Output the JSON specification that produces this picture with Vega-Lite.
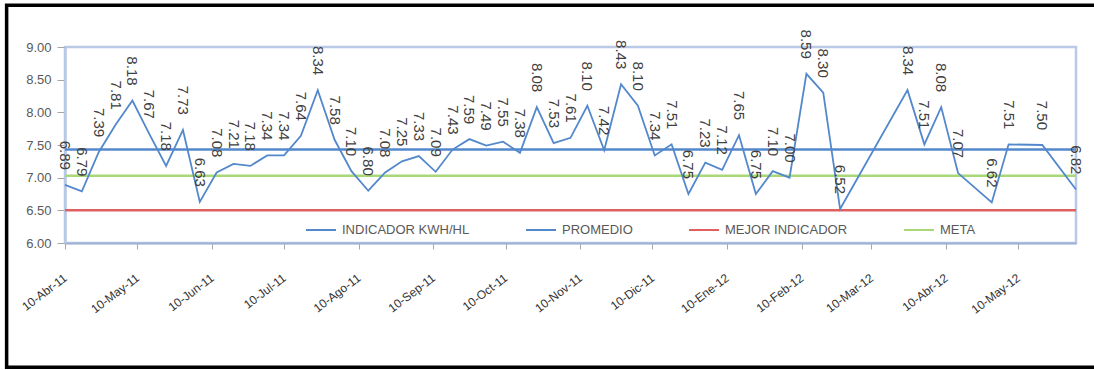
{
  "$schema": "https://vega.github.io/schema/vega-lite/v6.json",
  "autosize": "none",
  "width": 1011,
  "height": 196,
  "padding": {"left": 65, "top": 47, "right": 18, "bottom": 127},
  "background": "white",
  "config": {
    "view": {"stroke": "#b9c9e6", "strokeWidth": 2.5},
    "font": "Liberation Sans"
  },
  "datasets": {
    "main": [
      {"fecha": "2011-04-10", "valor": 6.89},
      {"fecha": "2011-04-17", "valor": 6.79},
      {"fecha": "2011-04-24", "valor": 7.39},
      {"fecha": "2011-05-01", "valor": 7.81},
      {"fecha": "2011-05-08", "valor": 8.18},
      {"fecha": "2011-05-15", "valor": 7.67},
      {"fecha": "2011-05-22", "valor": 7.18},
      {"fecha": "2011-05-29", "valor": 7.73},
      {"fecha": "2011-06-05", "valor": 6.63},
      {"fecha": "2011-06-12", "valor": 7.08},
      {"fecha": "2011-06-19", "valor": 7.21},
      {"fecha": "2011-06-26", "valor": 7.18},
      {"fecha": "2011-07-03", "valor": 7.34},
      {"fecha": "2011-07-10", "valor": 7.34},
      {"fecha": "2011-07-17", "valor": 7.64},
      {"fecha": "2011-07-24", "valor": 8.34},
      {"fecha": "2011-07-31", "valor": 7.58},
      {"fecha": "2011-08-07", "valor": 7.10},
      {"fecha": "2011-08-14", "valor": 6.80},
      {"fecha": "2011-08-21", "valor": 7.08},
      {"fecha": "2011-08-28", "valor": 7.25},
      {"fecha": "2011-09-04", "valor": 7.33},
      {"fecha": "2011-09-11", "valor": 7.09},
      {"fecha": "2011-09-18", "valor": 7.43},
      {"fecha": "2011-09-25", "valor": 7.59},
      {"fecha": "2011-10-02", "valor": 7.49},
      {"fecha": "2011-10-09", "valor": 7.55},
      {"fecha": "2011-10-16", "valor": 7.38},
      {"fecha": "2011-10-23", "valor": 8.08},
      {"fecha": "2011-10-30", "valor": 7.53},
      {"fecha": "2011-11-06", "valor": 7.61},
      {"fecha": "2011-11-13", "valor": 8.10},
      {"fecha": "2011-11-20", "valor": 7.42},
      {"fecha": "2011-11-27", "valor": 8.43},
      {"fecha": "2011-12-04", "valor": 8.10},
      {"fecha": "2011-12-11", "valor": 7.34},
      {"fecha": "2011-12-18", "valor": 7.51},
      {"fecha": "2011-12-25", "valor": 6.75},
      {"fecha": "2012-01-01", "valor": 7.23},
      {"fecha": "2012-01-08", "valor": 7.12},
      {"fecha": "2012-01-15", "valor": 7.65},
      {"fecha": "2012-01-22", "valor": 6.75},
      {"fecha": "2012-01-29", "valor": 7.10},
      {"fecha": "2012-02-05", "valor": 7.00},
      {"fecha": "2012-02-12", "valor": 8.59},
      {"fecha": "2012-02-19", "valor": 8.30},
      {"fecha": "2012-02-26", "valor": 6.52},
      {"fecha": "2012-03-25", "valor": 8.34},
      {"fecha": "2012-04-01", "valor": 7.51},
      {"fecha": "2012-04-08", "valor": 8.08},
      {"fecha": "2012-04-15", "valor": 7.07},
      {"fecha": "2012-04-29", "valor": 6.62},
      {"fecha": "2012-05-06", "valor": 7.51},
      {"fecha": "2012-05-20", "valor": 7.50},
      {"fecha": "2012-06-03", "valor": 6.82}
    ],
    "refs": [
      {"serie": "PROMEDIO", "valor": 7.43},
      {"serie": "MEJOR INDICADOR", "valor": 6.50},
      {"serie": "META", "valor": 7.03}
    ]
  },
  "encoding": {
    "y": {
      "field": "valor",
      "type": "quantitative",
      "scale": {"domain": [6, 9], "nice": false, "zero": false},
      "axis": {
        "title": null,
        "values": [6, 6.5, 7, 7.5, 8, 8.5, 9],
        "format": ".2f",
        "grid": false,
        "domainColor": "#b9c9e6",
        "domainWidth": 2.5,
        "tickColor": "#a6a6a6",
        "tickSize": 8,
        "labelPadding": 6,
        "labelFontSize": 13,
        "labelColor": "#595959"
      }
    }
  },
  "layer": [
    {
      "data": {"values": [{"x1": "2011-03-16T18:00:00Z", "x2": "2012-06-14T00:00:00Z", "y1": 9.64, "y2": 4.10}]},
      "mark": {"type": "rect", "fill": null, "stroke": "black", "strokeWidth": 3.5, "clip": false},
      "encoding": {
        "x": {"field": "x1", "type": "temporal"},
        "x2": {"field": "x2"},
        "y": {"field": "y1", "type": "quantitative"},
        "y2": {"field": "y2"}
      }
    },
    {
      "data": {"name": "refs"},
      "mark": {"type": "rule", "strokeWidth": 2.5},
      "encoding": {
        "color": {
          "field": "serie",
          "type": "nominal",
          "scale": {
            "domain": ["INDICADOR KWH/HL", "PROMEDIO", "MEJOR INDICADOR", "META"],
            "range": ["#5388cc", "#5388cc", "#e06060", "#a8d878"]
          },
          "legend": {
            "title": null,
            "orient": "none",
            "direction": "horizontal",
            "legendX": 240,
            "legendY": 167,
            "padding": 0,
            "symbolType": "stroke",
            "symbolSize": 900,
            "symbolStrokeWidth": 2,
            "labelOffset": 5,
            "columnPadding": 52,
            "labelFontSize": 13,
            "labelColor": "#595959",
            "labelLimit": 300
          }
        }
      }
    },
    {
      "data": {"name": "main"},
      "mark": {"type": "line", "strokeWidth": 1.8},
      "encoding": {
        "x": {
          "field": "fecha",
          "type": "temporal",
          "scale": {
            "type": "utc",
            "domain": [
              {"year": 2011, "month": 4, "date": 10, "utc": true},
              {"year": 2012, "month": 6, "date": 3, "utc": true}
            ],
            "nice": false
          },
          "axis": {
            "title": null,
            "grid": false,
            "values": [
              {"year": 2011, "month": 4, "date": 10, "utc": true},
              {"year": 2011, "month": 5, "date": 10, "utc": true},
              {"year": 2011, "month": 6, "date": 10, "utc": true},
              {"year": 2011, "month": 7, "date": 10, "utc": true},
              {"year": 2011, "month": 8, "date": 10, "utc": true},
              {"year": 2011, "month": 9, "date": 10, "utc": true},
              {"year": 2011, "month": 10, "date": 10, "utc": true},
              {"year": 2011, "month": 11, "date": 10, "utc": true},
              {"year": 2011, "month": 12, "date": 10, "utc": true},
              {"year": 2012, "month": 1, "date": 10, "utc": true},
              {"year": 2012, "month": 2, "date": 10, "utc": true},
              {"year": 2012, "month": 3, "date": 10, "utc": true},
              {"year": 2012, "month": 4, "date": 10, "utc": true},
              {"year": 2012, "month": 5, "date": 10, "utc": true}
            ],
            "labelExpr": "'10-' + ['Ene','Feb','Mar','Abr','May','Jun','Jul','Ago','Sep','Oct','Nov','Dic'][utcmonth(datum.value)] + '-' + utcFormat(datum.value, '%y')",
            "labelAngle": -37,
            "labelAlign": "right",
            "labelBaseline": "middle",
            "labelPadding": 27,
            "labelFontSize": 12,
            "labelColor": "#333333",
            "labelOverlap": false,
            "labelBound": false,
            "labelFlush": false,
            "domainColor": "#9fb1d3",
            "domainWidth": 2,
            "tickColor": "#a6a6a6",
            "tickSize": 6
          }
        },
        "color": {"datum": "INDICADOR KWH/HL"}
      }
    },
    {
      "data": {"name": "main"},
      "mark": {
        "type": "text",
        "angle": 90,
        "align": "right",
        "baseline": "middle",
        "dx": -15,
        "fontSize": 15,
        "color": "#404040"
      },
      "encoding": {
        "x": {"field": "fecha", "type": "temporal"},
        "text": {"field": "valor", "type": "quantitative", "format": ".2f"}
      }
    }
  ]
}
